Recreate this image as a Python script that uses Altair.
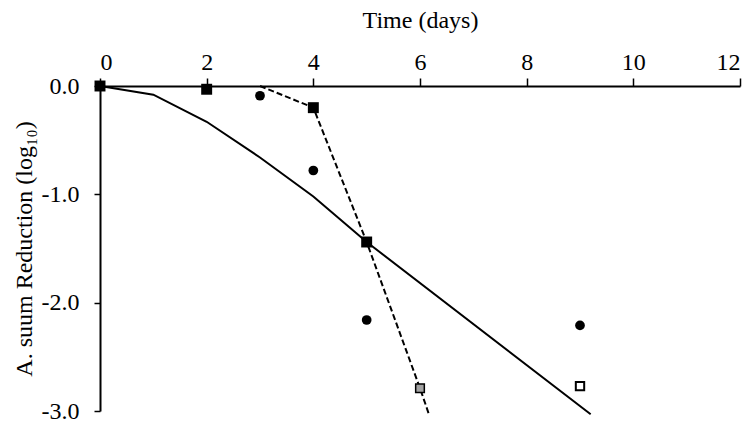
import altair as alt
import pandas as pd

# ---- data ----
x_ticks = [0, 2, 4, 6, 8, 10, 12]
y_ticks = [0.0, -1.0, -2.0, -3.0]

solid_days = [0, 1, 2, 3, 4, 5, 9.2]
solid_log = [0.0, -0.08, -0.33, -0.66, -1.02, -1.44, -3.03]

dashed_days = [3.0, 4, 5, 6, 6.16]
dashed_log = [0.0, -0.20, -1.44, -2.79, -3.02]

black_sq_days = [0, 2, 4, 5]
black_sq_log = [0.0, -0.03, -0.20, -1.44]

grey_sq_days = [6]
grey_sq_log = [-2.79]

open_sq_days = [9]
open_sq_log = [-2.77]

circle_days = [3, 4, 5, 9]
circle_log = [-0.09, -0.78, -2.16, -2.21]

FONT = "Liberation Serif"


def frame(days, vals):
    return pd.DataFrame({"day": days, "log": vals, "i": list(range(len(days)))})


x_enc = alt.X(
    "day:Q",
    scale=alt.Scale(domain=[0, 12], nice=False, zero=False),
    axis=alt.Axis(
        orient="top",
        values=x_ticks,
        format="d",
        title="Time (days)",
        titlePadding=18,
        tickSize=8,
        labelPadding=4,
    ),
)
y_enc = alt.Y(
    "log:Q",
    scale=alt.Scale(domain=[-3, 0], nice=False, zero=False),
    axis=alt.Axis(
        orient="left",
        values=y_ticks,
        labelExpr="datum.value == 0 ? '0.0' : '-' + format(abs(datum.value), '.1f')",
        title="A. suum Reduction (log\u2081\u2080)",
        titlePadding=5,
        tickSize=6,
        labelPadding=15,
    ),
)

solid = alt.Chart(frame(solid_days, solid_log)).mark_line(
    color="black", strokeWidth=2
).encode(x=x_enc, y=y_enc, order="i:Q")

dashed = alt.Chart(frame(dashed_days, dashed_log)).mark_line(
    color="black", strokeWidth=2, strokeDash=[6, 3]
).encode(x=x_enc, y=y_enc, order="i:Q")

circles = alt.Chart(frame(circle_days, circle_log)).mark_point(
    shape="circle", filled=True, color="black", size=95, opacity=1
).encode(x=x_enc, y=y_enc)

black_sq = alt.Chart(frame(black_sq_days, black_sq_log)).mark_point(
    shape="square", filled=True, color="black", size=120, opacity=1
).encode(x=x_enc, y=y_enc)

grey_sq = alt.Chart(frame(grey_sq_days, grey_sq_log)).mark_point(
    shape="square", filled=True, fill="#a3a3a3", stroke="black",
    strokeWidth=1.5, size=75, opacity=1
).encode(x=x_enc, y=y_enc)

open_sq = alt.Chart(frame(open_sq_days, open_sq_log)).mark_point(
    shape="square", filled=True, fill="white", stroke="black",
    strokeWidth=2, size=70, opacity=1
).encode(x=x_enc, y=y_enc)

chart = (
    alt.layer(solid, dashed, circles, black_sq, grey_sq, open_sq)
    .properties(
        width=640,
        height=325,
        autosize=alt.AutoSizeParams(type="none"),
        padding={"left": 92, "top": 78, "right": 6, "bottom": 13},
        background="white",
    )
    .configure_view(stroke=None)
    .configure_axis(
        grid=False,
        domainColor="black",
        domainWidth=2,
        tickColor="black",
        tickWidth=1.5,
        labelFont=FONT,
        labelFontSize=24,
        labelColor="black",
        titleFont=FONT,
        titleFontSize=24,
        titleFontWeight="normal",
        titleColor="black",
    )
)

chart.save("out.html", embed_options={"renderer": "svg", "actions": False})
